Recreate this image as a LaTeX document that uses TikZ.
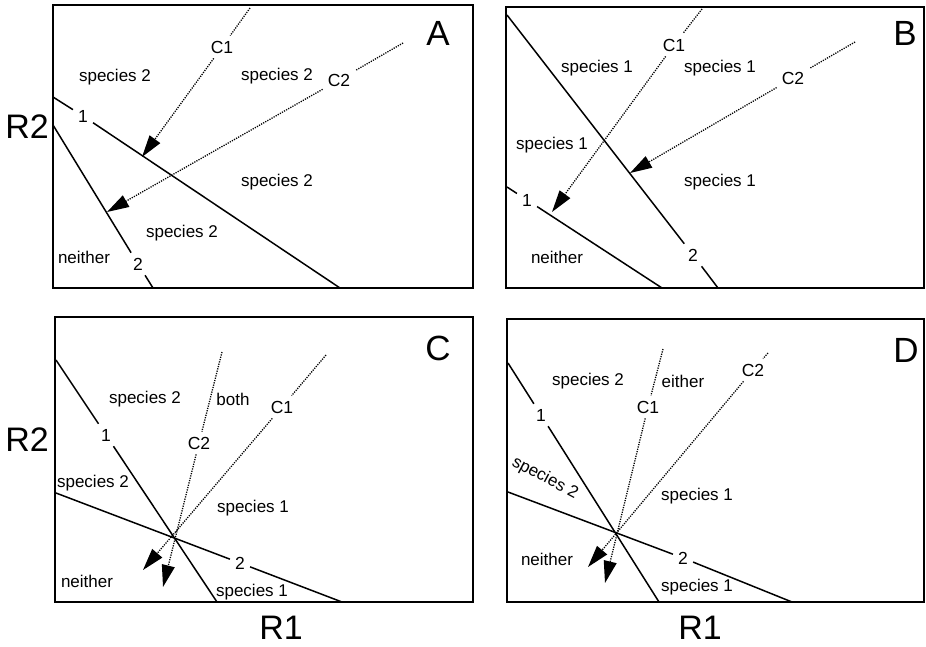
\documentclass[tikz,border=0pt]{standalone}
\usepackage{fontspec}
\setmainfont{Liberation Sans}
\usepackage{tikz}
\usetikzlibrary{arrows.meta}
\tikzstyle{panel} = [line width=2pt]
\tikzstyle{isocline} = [line width=1.5pt]
\tikzstyle{supply} = [dash pattern=on 1.2pt off 1.2pt, line width=1.3pt, -{Triangle[length=22pt,width=13pt]}]
\tikzstyle{region} = [inner sep=0pt, font=\fontsize{17}{20}\selectfont]
\tikzstyle{tag} = [inner sep=5pt, font=\fontsize{17.5}{20}\selectfont]
\tikzstyle{letter} = [inner sep=0pt, font=\fontsize{35}{40}\selectfont]
\tikzstyle{axis} = [inner sep=0pt, font=\fontsize{34}{38}\selectfont]

\begin{document}
\begin{tikzpicture}[x=1pt, y=-1pt]

  \useasboundingbox (0,0) rectangle (926,646);

  \node (r2top) [axis] at (27,127) {R2};
  \node (r2bot) [axis] at (27,440) {R2};
  \node (r1left) [axis] at (281,628) {R1};
  \node (r1right) [axis] at (700,628) {R1};

  % panel A
  \draw [panel] (53,5) rectangle (473,288);
  \node (lettera) [letter] at (438,33) {A};

  \coordinate (a1s) at (53,97);
  \coordinate (a1e) at (340,288);
  \node (a1) [tag] at (83,116) {1};
  \draw [isocline] (a1s) -- (a1) -- (a1e);

  \coordinate (a2s) at (53,125);
  \coordinate (a2e) at (153,288);
  \node (a2) [tag] at (138,264) {2};
  \draw [isocline] (a2s) -- (a2) -- (a2e);

  \coordinate (ac1s) at (250,8);
  \coordinate (ac1e) at (142,157);
  \node (ac1) [tag] at (222,47) {C1};
  \draw [supply] (ac1s) -- (ac1) -- (ac1e);

  \coordinate (ac2s) at (403,43);
  \coordinate (ac2e) at (107,212);
  \node (ac2) [tag] at (339,80) {C2};
  \draw [supply] (ac2s) -- (ac2) -- (ac2e);

  \node (aspa) [region] at (115,77) {species 2};
  \node (aspb) [region] at (277,76) {species 2};
  \node (aspc) [region] at (277,182) {species 2};
  \node (aspd) [region] at (182,233) {species 2};
  \node (anone) [region] at (84,257) {neither};

  % panel B
  \draw [panel] (506,7) rectangle (924,288);
  \node (letterb) [letter] at (905,33) {B};

  \coordinate (b1s) at (507,187);
  \coordinate (b1e) at (662,288);
  \node (b1) [tag] at (527,200) {1};
  \draw [isocline] (b1s) -- (b1) -- (b1e);

  \coordinate (b2s) at (507,15);
  \coordinate (b2e) at (718,288);
  \node (b2) [tag] at (693,255) {2};
  \draw [isocline] (b2s) -- (b2) -- (b2e);

  \coordinate (bc1s) at (702,9);
  \coordinate (bc1e) at (552,212);
  \node (bc1) [tag] at (674,45) {C1};
  \draw [supply] (bc1s) -- (bc1) -- (bc1e);

  \coordinate (bc2s) at (855,42);
  \coordinate (bc2e) at (630,173);
  \node (bc2) [tag] at (793,78) {C2};
  \draw [supply] (bc2s) -- (bc2) -- (bc2e);

  \node (bspa) [region] at (597,68) {species 1};
  \node (bspb) [region] at (720,68) {species 1};
  \node (bspc) [region] at (552,145) {species 1};
  \node (bspd) [region] at (720,182) {species 1};
  \node (bnone) [region] at (557,257) {neither};

  % panel C
  \draw [panel] (55,317) rectangle (473,602);
  \node (letterc) [letter] at (438,348) {C};

  \coordinate (c1s) at (56,360);
  \coordinate (c1e) at (217,602);
  \node (c1) [tag] at (106,435) {1};
  \draw [isocline] (c1s) -- (c1) -- (c1e);

  \coordinate (c2s) at (56,493);
  \coordinate (c2e) at (342,602);
  \node (c2) [tag] at (240,563) {2};
  \draw [isocline] (c2s) -- (c2) -- (c2e);

  \coordinate (cc2s) at (222,352);
  \coordinate (cc2e) at (163,587);
  \node (cc2) [tag] at (199,443) {C2};
  \draw [supply] (cc2s) -- (cc2) -- (cc2e);

  \coordinate (cc1s) at (326,355);
  \coordinate (cc1e) at (143,570);
  \node (cc1) [tag] at (282,407) {C1};
  \draw [supply] (cc1s) -- (cc1) -- (cc1e);

  \node (cspa) [region] at (145,399) {species 2};
  \node (cboth) [region] at (233,399) {both};
  \node (cspb) [region] at (93,483) {species 2};
  \node (cspc) [region] at (253,508) {species 1};
  \node (cnone) [region] at (87,581) {neither};
  \node (cspd) [region] at (252,592) {species 1};

  % panel D
  \draw [panel] (507,319) rectangle (924,602);
  \node (letterd) [letter] at (906,350) {D};

  \coordinate (d1s) at (508,363);
  \coordinate (d1e) at (659,602);
  \node (d1) [tag] at (541,415) {1};
  \draw [isocline] (d1s) -- (d1) -- (d1e);

  \coordinate (d2s) at (508,492);
  \coordinate (d2e) at (792,602);
  \node (d2) [tag] at (683,558) {2};
  \draw [isocline] (d2s) -- (d2) -- (d2e);

  \coordinate (dc1s) at (663,349);
  \coordinate (dc1e) at (605,583);
  \node (dc1) [tag] at (648,407) {C1};
  \draw [supply] (dc1s) -- (dc1) -- (dc1e);

  \coordinate (dc2s) at (768,353);
  \coordinate (dc2e) at (588,567);
  \node (dc2) [tag] at (753,370) {C2};
  \draw [supply] (dc2s) -- (dc2) -- (dc2e);

  \node (dspa) [region] at (588,381) {species 2};
  \node (deither) [region] at (683,381) {either};
  \node (dspb) [region, rotate=-28] at (545,478) {species 2};
  \node (dspc) [region] at (697,496) {species 1};
  \node (dnone) [region] at (547,559) {neither};
  \node (dspd) [region] at (697,587) {species 1};

\end{tikzpicture}
\end{document}
